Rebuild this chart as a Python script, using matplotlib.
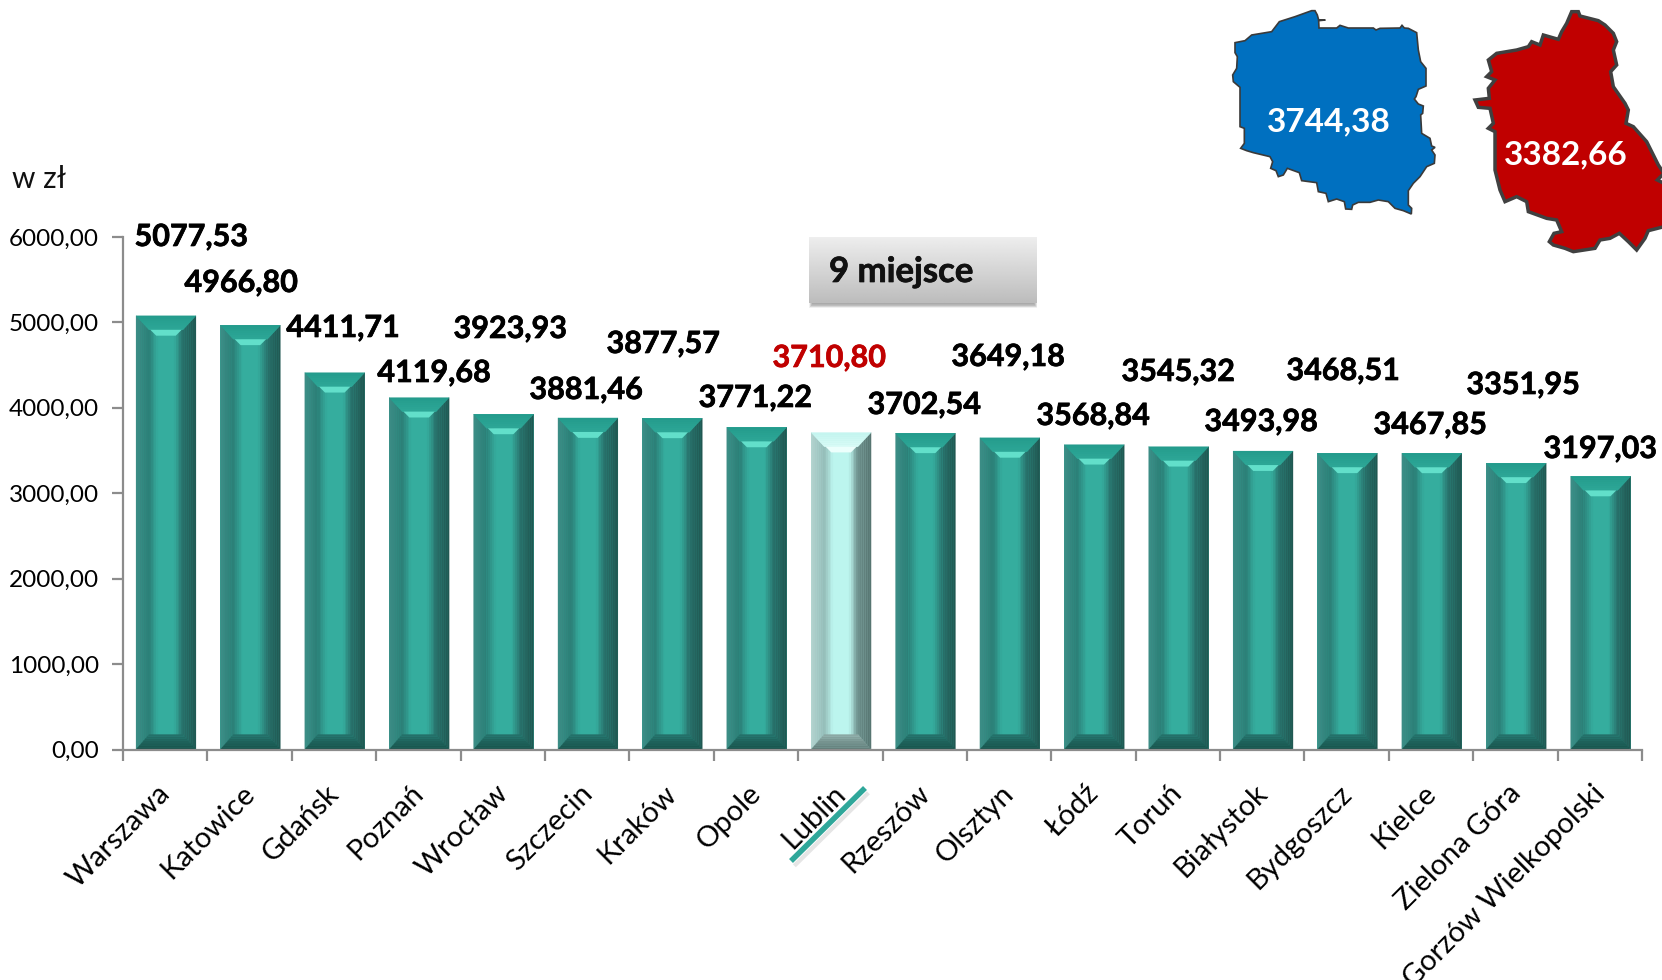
import matplotlib
matplotlib.use("Agg")
import matplotlib.pyplot as plt
import matplotlib.patheffects as pe
from matplotlib.colors import to_rgb
import numpy as np
from matplotlib.patches import Polygon, Rectangle

plt.rcParams['font.family'] = ['Lato', 'DejaVu Sans']

cities = ["Warszawa", "Katowice", "Gdańsk", "Poznań", "Wrocław", "Szczecin", "Kraków", "Opole", "Lublin",
          "Rzeszów", "Olsztyn", "Łódź", "Toruń", "Białystok", "Bydgoszcz", "Kielce", "Zielona Góra",
          "Gorzów Wielkopolski"]
values = [5077.53, 4966.80, 4411.71, 4119.68, 3923.93, 3881.46, 3877.57, 3771.22, 3710.80,
          3702.54, 3649.18, 3568.84, 3545.32, 3493.98, 3468.51, 3467.85, 3351.95, 3197.03]
y_ticks = [0, 1000, 2000, 3000, 4000, 5000, 6000]
highlight = "Lublin"

# where the value labels sit in the picture (centre, px)
label_x = [191, 241, 343, 434, 510, 586, 663, 755, 829, 924, 1008, 1093, 1178, 1261, 1343, 1430, 1523, 1600]
label_y = [237, 283, 328, 373, 329, 390, 344, 398, 358, 405, 357, 416, 372, 422, 371, 425, 385, 449]

poland_outline = [(345, 32), (352, 45), (356, 60), (376, 60), (356, 62), (357, 84), (410, 84), (420, 76), (445, 84),
                  (520, 84), (528, 90), (540, 85), (600, 84), (606, 76), (613, 84), (625, 85), (650, 98), (655, 150),
                  (662, 185), (678, 205), (678, 258), (655, 268), (648, 290), (643, 297), (655, 312), (670, 318),
                  (668, 340), (662, 345), (665, 400), (690, 415), (695, 438), (705, 442), (695, 450), (705, 465),
                  (703, 490), (680, 500), (660, 530), (640, 550), (625, 572), (625, 615), (635, 625), (634, 642),
                  (610, 632), (585, 625), (565, 605), (535, 600), (510, 607), (475, 607), (458, 615), (455, 628),
                  (437, 627), (433, 605), (410, 597), (385, 605), (378, 580), (355, 575), (350, 548), (305, 542),
                  (298, 518), (262, 505), (250, 525), (235, 530), (228, 512), (212, 505), (218, 485), (210, 470),
                  (160, 458), (140, 452), (122, 445), (133, 430), (133, 385), (120, 380), (120, 262), (100, 245),
                  (98, 225), (110, 205), (112, 170), (105, 158), (105, 128), (135, 122), (155, 105), (215, 95),
                  (238, 65), (285, 50), (335, 32)]
lublin_outline = [(1115, 35), (1135, 35), (1140, 48), (1195, 62), (1215, 75), (1240, 100), (1250, 125), (1240, 150),
                  (1250, 195), (1232, 215), (1240, 260), (1275, 310), (1285, 330), (1278, 370), (1300, 380),
                  (1340, 425), (1375, 495), (1392, 520), (1372, 540), (1392, 550), (1392, 680), (1345, 692),
                  (1335, 715), (1310, 750), (1285, 725), (1258, 700), (1230, 715), (1200, 720), (1185, 745),
                  (1120, 755), (1095, 745), (1060, 735), (1048, 725), (1062, 700), (1085, 695), (1070, 660),
                  (1040, 655), (985, 635), (980, 605), (950, 590), (915, 605), (900, 570), (885, 510), (885, 430),
                  (885, 395), (865, 385), (880, 370), (870, 325), (835, 322), (825, 300), (868, 295), (865, 265),
                  (885, 240), (860, 230), (875, 215), (865, 180), (890, 160), (920, 155), (950, 150), (985, 140),
                  (995, 125), (1020, 135), (1030, 105), (1075, 118), (1085, 95), (1100, 70)]


def comma(v):
    return f"{v:.2f}".replace(".", ",")


def zoom_to_px(points):
    # outlines were traced on a 3x crop starting at x=1200
    return [(1200 + p[0] / 3, p[1] / 3) for p in points]


def mix(a, b, t):
    a, b = np.array(to_rgb(a)), np.array(to_rgb(b))
    return tuple(a + (b - a) * t)


def bevel(ax, outer, inner, col_outer, col_inner, steps=7):
    # trapezoid outer[0],outer[1] -> inner[1],inner[0], cut in slices so it shades softly
    o0, o1, i0, i1 = [np.array(p, dtype=float) for p in (outer[0], outer[1], inner[0], inner[1])]
    for k in range(steps):
        t0, t1 = k / steps, (k + 1) / steps
        pts = [o0 + (i0 - o0) * t0, o1 + (i1 - o1) * t0, o1 + (i1 - o1) * t1, o0 + (i0 - o0) * t1]
        col = mix(col_outer, col_inner, (k + 0.5) / steps)
        ax.add_patch(Polygon(pts, fc=col, ec=col, lw=0.2))


fig = plt.figure(figsize=(16.62, 9.8), dpi=100)
ax = fig.add_axes([123 / 1662, (980 - 749.5) / 980, (1642 - 123) / 1662, (749.5 - 237) / 980])
ax.set_xlim(-0.5, len(cities) - 0.5)
ax.set_ylim(0, 6000)

px_x = (len(cities)) / (1642 - 123)
px_y = 6000 / (749.5 - 237)

green = dict(center="#35ad9e", left=("#3d8d86", "#2b7f77"), right=("#1f5650", "#28706a"),
             top=("#239a8b", "#2da797"), bottom=("#174f49", "#25736b"), glow="#62dfca")
pale = dict(center="#bcf5ee", left=("#b4d4d0", "#94bcb8"), right=("#55736f", "#6c8f8b"),
            top=("#c4f5ef", "#d8fbf6"), bottom=("#5d7a76", "#8eaca8"), glow="#ecfffc")

half = 0.355
side = 13 * px_x
shift = 0.8 * px_x
for i, (city, v) in enumerate(zip(cities, values)):
    c = pale if city == highlight else green
    x = i + shift
    ax.bar(x, v, width=half * 2, color=c["center"], linewidth=0)
    l, r = x - half, x + half
    top_b = 14 * px_y
    bot_b = 15 * px_y
    # soft transition from the side bevels into the face
    bevel(ax, [(l + side, bot_b), (l + side, v - top_b)], [(l + side + 9 * px_x, bot_b), (l + side + 9 * px_x, v - top_b)],
          c["left"][1], c["center"], steps=5)
    bevel(ax, [(r - side, bot_b), (r - side, v - top_b)], [(r - side - 9 * px_x, bot_b), (r - side - 9 * px_x, v - top_b)],
          c["right"][1], c["center"], steps=5)
    bevel(ax, [(l, 0), (l, v)], [(l + side, bot_b), (l + side, v - top_b)], *c["left"])
    bevel(ax, [(r, 0), (r, v)], [(r - side, bot_b), (r - side, v - top_b)], *c["right"])
    bevel(ax, [(l, v), (r, v)], [(l + side, v - top_b), (r - side, v - top_b)], *c["top"])
    bevel(ax, [(l, 0), (r, 0)], [(l + side, bot_b), (r - side, bot_b)], *c["bottom"])
    # bright lip under the top bevel
    ax.add_patch(Polygon([(l + side * 1.1, v - top_b), (r - side * 1.1, v - top_b),
                          (r - side * 1.55, v - top_b * 1.42), (l + side * 1.55, v - top_b * 1.42)],
                         fc=c["glow"], lw=0))

ax.set_yticks(y_ticks)
ax.set_yticklabels([comma(t) for t in y_ticks], fontsize=17.5)
ax.set_xticks(np.arange(len(cities) + 1) - 0.5)
ax.set_xticklabels([])
ax.tick_params(axis="both", length=8, width=1.6, color="#8c8c8c", pad=9.5)
ax.tick_params(axis="x", length=8, direction="out")
for s in ["top", "right"]:
    ax.spines[s].set_visible(False)
for s in ["left", "bottom"]:
    ax.spines[s].set_color("#8c8c8c")
    ax.spines[s].set_linewidth(1.6)

for i, city in enumerate(cities):
    ax.annotate(city, xy=(i, 0), xycoords="data", xytext=(-6, -22), textcoords="offset points", rotation=45,
                rotation_mode="anchor", ha="right", va="top", fontsize=21, color="black", annotation_clip=False)

# overlay in picture pixels for the free floating things
over = fig.add_axes([0, 0, 1, 1], facecolor="none")
over.set_xlim(0, 1662)
over.set_ylim(980, 0)
over.axis("off")

for i, v in enumerate(values):
    col = "#c00000" if cities[i] == highlight else "black"
    t = over.text(label_x[i], label_y[i], comma(v), ha="center", va="center", fontsize=22, fontweight="bold", color=col)
    t.set_path_effects([pe.withStroke(linewidth=0.5, foreground=col)])

over.text(12, 179, "w zł", fontsize=21.5, va="center", ha="left", color="#111111")

# underline below Lublin
over.plot([793, 867], [863, 790], color="#b5b5b5", lw=3, alpha=0.35, solid_capstyle="butt",
          transform=over.transData + matplotlib.transforms.ScaledTranslation(1 / 72, -2 / 72, fig.dpi_scale_trans))
over.plot([791, 865], [861, 788], color="#2fa79a", lw=4, solid_capstyle="butt")

# 9 miejsce box
for k in range(7):
    over.add_patch(Rectangle((809 + k * 0.5, 240 + k * 0.3), 228 - k, 68 - k * 0.9, fc="#333333", alpha=0.07, lw=0))
grad = np.linspace(0.93, 0.74, 64).reshape(-1, 1)
over.imshow(grad, extent=(809, 1037, 303, 237), cmap="gray", vmin=0, vmax=1, aspect="auto", zorder=2)
over.set_xlim(0, 1662)
over.set_ylim(980, 0)
t = over.text(829, 272, "9 miejsce", fontsize=25, fontweight="bold", va="center", ha="left", color="#111111", zorder=3)
t.set_path_effects([pe.withStroke(linewidth=0.5, foreground="#111111")])

# maps
over.add_patch(Polygon(zoom_to_px(poland_outline), closed=True, fc="#0070c0", ec="#3a3a3a", lw=1.2, clip_on=True))
over.add_patch(Polygon(zoom_to_px(lublin_outline), closed=True, fc="#c00000", ec="#404040", lw=2.5, clip_on=True))
over.text(1329, 122, comma(3744.38), color="white", fontsize=24, fontweight="bold", ha="center", va="center")
over.text(1566, 155, comma(3382.66), color="white", fontsize=24, fontweight="bold", ha="center", va="center")

fig.savefig("out.png", dpi=100)
